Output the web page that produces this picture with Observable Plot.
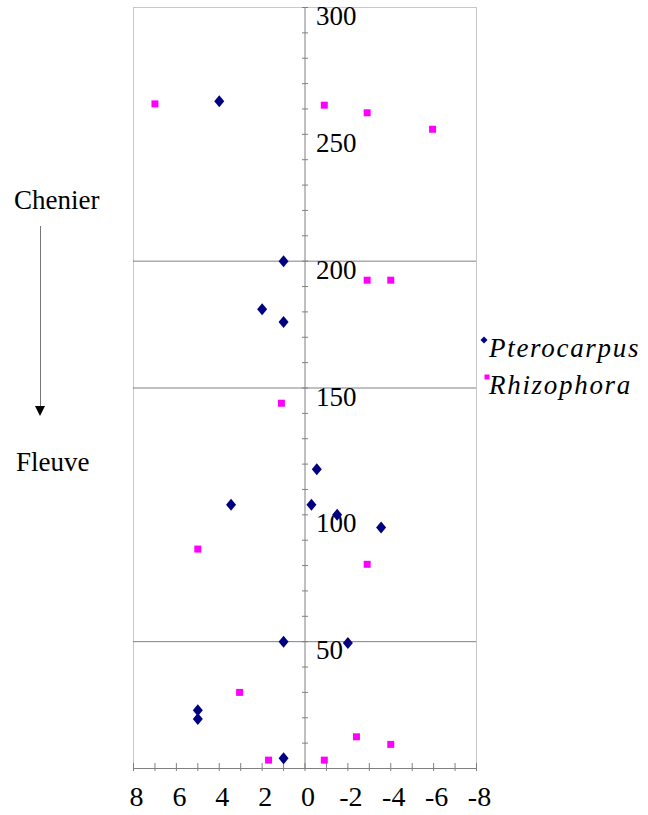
<!DOCTYPE html>
<html>
<head>
<meta charset="utf-8">
<script src="https://cdn.jsdelivr.net/npm/d3@7"></script>
<script src="https://cdn.jsdelivr.net/npm/@observablehq/plot@0.6"></script>
<style>
  html, body { margin: 0; padding: 0; background: #fff; }
  #wrap { position: relative; width: 648px; height: 815px; overflow: hidden; }
  #wrap svg.plot { position: absolute; left: 0; top: 0; }
  .lab { position: absolute; font-family: "Liberation Serif", "Times New Roman", serif; font-size: 27px; color: #000; white-space: nowrap; line-height: 1; }
  .leg { position: absolute; font-family: "Liberation Serif", "Times New Roman", serif; font-size: 27px; font-style: italic; color: #000; white-space: nowrap; line-height: 1; letter-spacing: 1.7px; }
</style>
</head>
<body>
<div id="wrap"></div>
<script>
// ---- data ----
const pteroX = [4, 1, 2, 1, -0.55, 3.45, -0.3, -1.5, -3.55, 1, -2, 5, 5, 1];
const pteroY = [263, 200, 181, 176, 118, 104, 104, 100, 95, 50, 49.5, 23, 19.5, 4];
const rhizoX = [7, -0.9, -2.9, -5.95, -2.9, -4, 1.1, 5, -2.9, 3.05, -2.4, -4, 1.7, -0.9];
const rhizoY = [262, 261.5, 258.5, 252, 192.5, 192.5, 144, 86.5, 80.5, 30, 12.5, 9.5, 3.3, 3.3];
const seriesNames = ["Pterocarpus", "Rhizophora"];
const xTickLabels = [8, 6, 4, 2, 0, -2, -4, -6, -8];
const xMinorTicks = d3.range(-8, 9, 1);
const yTickLabels = [50, 100, 150, 200, 250, 300];
const yMinorTicks = d3.range(0, 301, 10);
const gridValues = [50, 150, 200];

const ptero = pteroX.map((x, i) => ({x, y: pteroY[i]}));
const rhizo = rhizoX.map((x, i) => ({x, y: rhizoY[i]}));

// custom symbols
const diamond = {draw(ctx) { ctx.moveTo(0, -6); ctx.lineTo(5, 0); ctx.lineTo(0, 6); ctx.lineTo(-5, 0); ctx.closePath(); }};
const square = {draw(ctx) { ctx.rect(-3.5, -3.5, 7, 7); }};
const hTick = {draw(ctx) { ctx.moveTo(-3, 0); ctx.lineTo(3, 0); }};
const vTick = {draw(ctx) { ctx.moveTo(0, -5.5); ctx.lineTo(0, 2.5); }};

const serif = "'Liberation Serif', 'Times New Roman', serif";
const chart = Plot.plot({
  width: 648,
  height: 815,
  marginLeft: 133,
  marginRight: 172,
  marginTop: 7,
  marginBottom: 47,
  style: {background: "white", overflow: "visible", fontFamily: serif},
  x: {domain: [8, -8], axis: null},
  y: {domain: [0, 300], axis: null},
  marks: [
    Plot.frame({stroke: "#c8c8c8"}),
    Plot.ruleY(gridValues, {stroke: "#808080", strokeWidth: 1}),
    Plot.ruleX([0], {stroke: "#808080"}),
    Plot.ruleY([0], {stroke: "#808080"}),
    Plot.dot(yMinorTicks, {x: () => 0, y: d => d, symbol: hTick, stroke: "#808080", strokeWidth: 1}),
    Plot.dot(xMinorTicks, {x: d => d, y: () => 0, symbol: vTick, stroke: "#808080", strokeWidth: 1}),
    Plot.text(yTickLabels, {x: () => 0, y: d => d, text: d => String(d), textAnchor: "start", dx: 11, dy: 9, fontSize: 27, fontFamily: serif, fill: "black"}),
    Plot.text(xTickLabels, {x: d => d, y: () => 0, text: d => String(d), dx: 3, dy: 29, fontSize: 28, fontFamily: serif, fill: "black"}),
    Plot.dot(rhizo, {x: "x", y: "y", symbol: square, fill: "#ff00ff", stroke: "none"}),
    Plot.dot(ptero, {x: "x", y: "y", symbol: diamond, fill: "#000080", stroke: "none"})
  ]
});
chart.classList.add("plot");
const wrap = document.getElementById("wrap");
wrap.appendChild(chart);

// annotations: Chenier -> Fleuve
function addLabel(cls, text, left, top) {
  const d = document.createElement("div");
  d.className = cls; d.textContent = text;
  d.style.left = left + "px"; d.style.top = top + "px";
  wrap.appendChild(d);
  return d;
}
addLabel("lab", "Chenier", 14, 187);
addLabel("lab", "Fleuve", 16, 449);
const ns = "http://www.w3.org/2000/svg";
const arr = document.createElementNS(ns, "svg");
arr.setAttribute("width", 648); arr.setAttribute("height", 815);
arr.style.position = "absolute"; arr.style.left = "0"; arr.style.top = "0"; arr.style.pointerEvents = "none";
arr.innerHTML = '<line x1="40.5" y1="226" x2="40.5" y2="408" stroke="#777" stroke-width="1"/>' +
  '<path d="M35,406 L45,406 L40,416 Z" fill="#000"/>';
wrap.appendChild(arr);

// legend
const legSvg = document.createElementNS(ns, "svg");
legSvg.setAttribute("width", 648); legSvg.setAttribute("height", 815);
legSvg.style.position = "absolute"; legSvg.style.left = "0"; legSvg.style.top = "0"; legSvg.style.pointerEvents = "none";
legSvg.innerHTML = '<path d="M484,336.5 L487.5,340 L484,343.5 L480.5,340 Z" fill="#000080"/>' +
  '<rect x="484.5" y="374.5" width="5" height="5" fill="#ff00ff"/>';
wrap.appendChild(legSvg);
addLabel("leg", seriesNames[0], 489, 335);
addLabel("leg", seriesNames[1], 489, 372);
</script>
</body>
</html>
